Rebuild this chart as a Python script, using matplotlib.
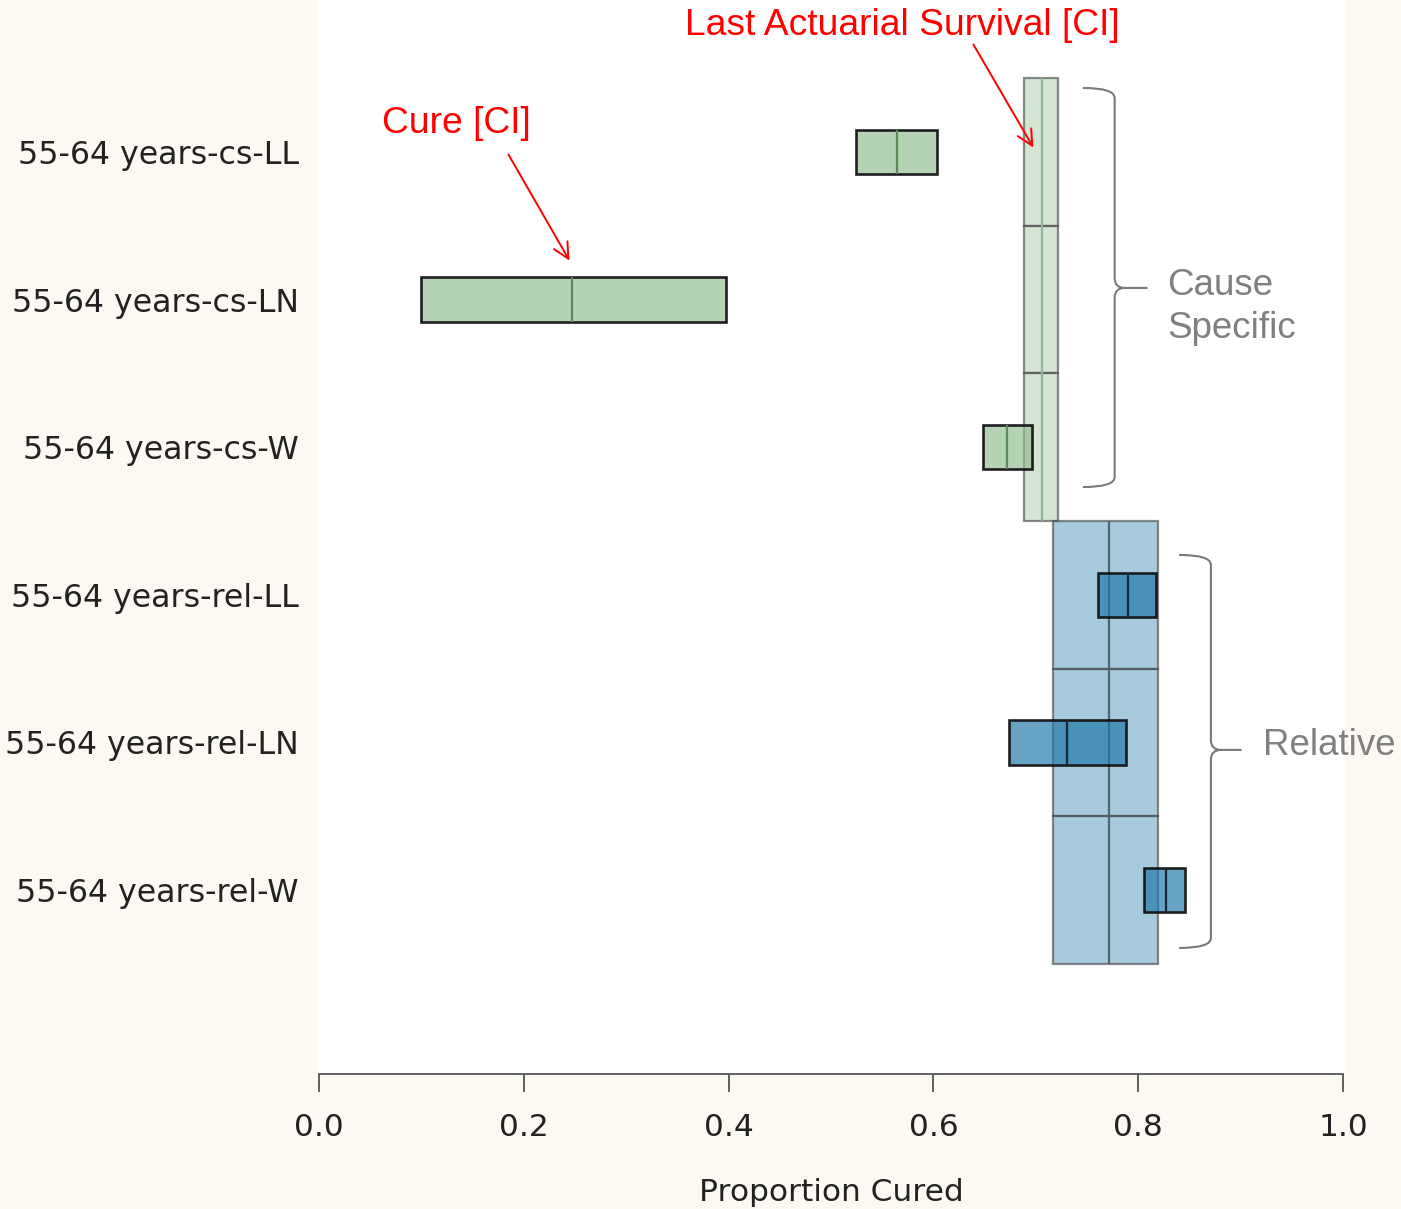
import numpy as np
import matplotlib
matplotlib.use('Agg')
import matplotlib.pyplot as plt
from matplotlib.path import Path
import matplotlib.patches as pc

# Data
groups = ['55-64 years-cs-LL', '55-64 years-cs-LN', '55-64 years-cs-W',
          '55-64 years-rel-LL', '55-64 years-rel-LN', '55-64 years-rel-W']
kind = ['cs', 'cs', 'cs', 'rel', 'rel', 'rel']

# Cure [CI]
cure_lo = [0.524, 0.100, 0.648, 0.761, 0.674, 0.806]
cure_med = [0.564, 0.247, 0.672, 0.790, 0.730, 0.827]
cure_hi = [0.604, 0.397, 0.696, 0.817, 0.788, 0.846]

# Last actuarial survival [CI]
las_lo = [0.688, 0.688, 0.688, 0.717, 0.717, 0.717]
las_med = [0.706, 0.706, 0.706, 0.771, 0.771, 0.771]
las_hi = [0.722, 0.722, 0.722, 0.819, 0.819, 0.819]

xticks = [0.0, 0.2, 0.4, 0.6, 0.8, 1.0]

# colours
base = {'cs': (145/255, 190/255, 145/255), 'rel': (30/255, 120/255, 168/255)}
las_med_col = {'cs': '#8fb48f', 'rel': '#56656c'}
cure_med_col = {'cs': '#5b8a5b', 'rel': '#1a2a35'}
bg = '#fcf9f2'

fig = plt.figure(figsize=(14.01, 12.09), dpi=100, facecolor=bg)
ax = fig.add_axes([318/1401, 1 - 1074/1209, 1027/1401, 1074/1209])
ax.set_facecolor('white')

n = len(groups)
ypos = np.arange(n, 0, -1)

# survival boxes (full row height)
for i in range(n):
    k = kind[i]
    ax.barh(ypos[i], las_hi[i] - las_lo[i], left=las_lo[i], height=1.0,
            color=base[k] + (0.39,), edgecolor=(0.3, 0.3, 0.3, 0.65), linewidth=1.6, zorder=2)
    ax.vlines(las_med[i], ypos[i] - 0.5, ypos[i] + 0.5, color=las_med_col[k], lw=1.6, zorder=3)

# cure boxes
for i in range(n):
    k = kind[i]
    ax.barh(ypos[i], cure_hi[i] - cure_lo[i], left=cure_lo[i], height=0.3,
            color=base[k] + (0.68,), edgecolor=(0.08, 0.08, 0.08, 0.95), linewidth=1.9, zorder=4)
    ax.vlines(cure_med[i], ypos[i] - 0.15, ypos[i] + 0.15, color=cure_med_col[k], lw=1.6, zorder=5)

ax.set_xlim(-1/1024, 1 + 2/1024)
ax.set_ylim(-0.247, 7.03)

ax.set_yticks(ypos)
ax.set_yticklabels(groups)
ax.tick_params(axis='y', length=0, pad=14, labelsize=22.8, labelcolor='#222222')
ax.set_xticks(xticks)
ax.set_xticklabels(['%.1f' % t for t in xticks])
ax.tick_params(axis='x', length=13, width=1.3, color='#555555', pad=15,
               labelsize=22.5, labelcolor='#222222')
for s in ['top', 'right', 'left']:
    ax.spines[s].set_visible(False)
ax.spines['bottom'].set_bounds(0, 1)
ax.spines['bottom'].set_color('#555555')
ax.spines['bottom'].set_linewidth(1.3)
ax.set_xlabel('Proportion Cured', fontsize=22.5, color='#222222', va='center')
ax.xaxis.set_label_coords(0.5, -0.11)

# red annotations
red_font = dict(color='red', fontsize=26.8, family='Liberation Sans')
ax.text(0.1338, 6.196, 'Cure [CI]', ha='center', va='center', **red_font)
ax.annotate('', xy=(0.246, 5.248), xytext=(0.1836, 6.0),
            arrowprops=dict(arrowstyle='->', color='red', lw=1.4, mutation_scale=28))
ax.text(0.570, 6.86, 'Last Actuarial Survival [CI]', ha='center', va='center', **red_font)
ax.annotate('', xy=(0.699, 6.014), xytext=(0.6377, 6.745),
            arrowprops=dict(arrowstyle='->', color='red', lw=1.4, mutation_scale=28))


# curly braces
def brace(x_arm, x_v, x_tip, y_top, y_mid, y_bot):
    rx = 10 / 1024
    ry = 10 / 147.6
    verts = [(x_arm, y_top), (x_v, y_top), (x_v, y_top - ry),
             (x_v, y_mid + ry), (x_v, y_mid), (x_v + rx, y_mid),
             (x_tip, y_mid),
             (x_v + rx, y_mid), (x_v, y_mid), (x_v, y_mid - ry),
             (x_v, y_bot + ry), (x_v, y_bot), (x_arm, y_bot)]
    codes = [Path.MOVETO, Path.CURVE3, Path.CURVE3,
             Path.LINETO, Path.CURVE3, Path.CURVE3,
             Path.LINETO,
             Path.MOVETO, Path.CURVE3, Path.CURVE3,
             Path.LINETO, Path.CURVE3, Path.CURVE3]
    ax.add_patch(pc.PathPatch(Path(verts, codes), fill=False, edgecolor='#7a7a7a',
                              lw=1.5, zorder=6, clip_on=False))


brace(0.746, 0.777, 0.809, 6.434, 5.079, 3.730)
brace(0.840, 0.871, 0.901, 3.270, 1.949, 0.607)

gray_font = dict(color='#808080', fontsize=26.5, family='Liberation Sans')
ax.text(0.828, 4.95, 'Cause\nSpecific', ha='left', va='center', linespacing=1.3, **gray_font)
ax.text(0.922, 1.982, 'Relative', ha='left', va='center', clip_on=False, **gray_font)

fig.savefig('out.png', dpi=100, facecolor=bg)
